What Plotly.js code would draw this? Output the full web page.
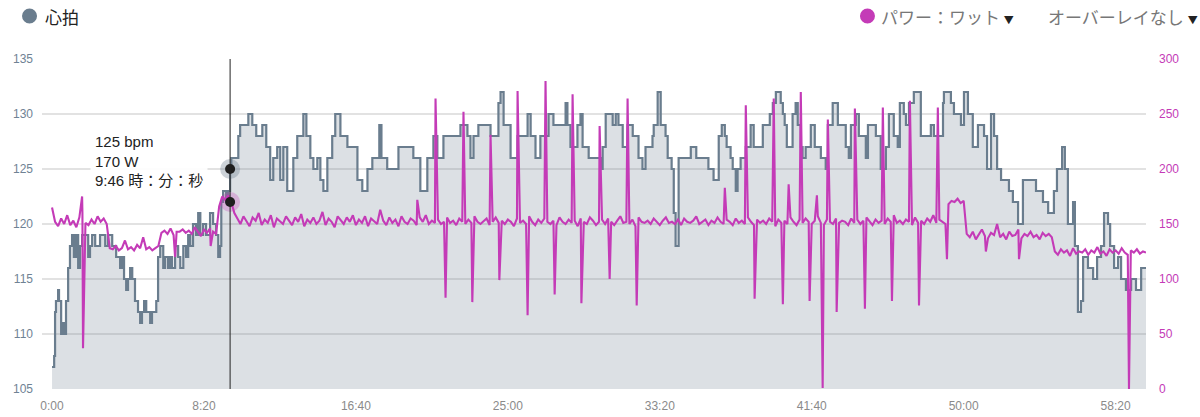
<!DOCTYPE html>
<html>
<head>
<meta charset="utf-8">
<script src="https://cdn.plot.ly/plotly-3.0.1.min.js"></script>
<style>
  html, body { margin: 0; padding: 0; background: #fff; }
  #chart { width: 1200px; height: 417px; }
</style>
</head>
<body>
<div id="chart"></div>
<script>
// ---------------- DATA ----------------
// Heart rate: [seconds, bpm] step points
const heartRate = [
  [0,107],[7,108],[10,112],[13,113],[20,114],[23,113],[30,110],[36,111],[40,110],[46,113],
  [53,116],[59,118],[66,119],[72,117],[79,119],[86,116],[92,118],[99,119],[119,117],[125,118],
  [132,119],[142,118],[158,119],[175,118],[184,119],[198,118],[211,117],[224,116],[231,117],[237,115],
  [244,114],[250,115],[257,116],[264,115],[273,113],[283,112],[290,111],[296,112],[303,113],[310,112],
  [323,111],[329,112],[343,113],[349,117],[356,118],[366,116],[372,117],[382,116],[389,117],[395,116],
  [405,118],[415,117],[422,116],[432,118],[441,117],[448,119],[455,118],[464,120],[474,119],[481,121],
  [488,119],[497,120],[507,119],[520,121],[530,120],[540,119],[547,117],[553,118],[557,122],[563,123],
  [573,122],[580,123],[586,125],[590,126],[613,128],[619,129],[646,130],[659,129],[672,128],[692,129],
  [705,127],[718,124],[728,126],[741,127],[751,124],[761,127],[774,123],[794,126],[807,128],[827,130],
  [837,128],[850,126],[860,125],[873,126],[883,124],[893,123],[906,126],[922,128],[932,130],[949,128],
  [972,127],[1005,124],[1021,123],[1038,125],[1054,126],[1077,129],[1084,126],[1103,125],[1140,127],[1189,126],
  [1212,123],[1235,126],[1255,128],[1268,126],[1288,128],[1344,129],[1367,128],[1377,126],[1387,128],[1403,129],
  [1443,128],[1469,131],[1476,132],[1486,129],[1509,126],[1532,128],[1565,130],[1575,128],[1591,126],[1607,128],
  [1634,130],[1650,129],[1690,131],[1696,129],[1706,127],[1729,129],[1739,130],[1746,127],[1766,126],[1805,125],
  [1812,127],[1822,130],[1845,129],[1855,130],[1864,129],[1878,127],[1894,129],[1911,128],[1930,126],[1943,125],
  [1953,127],[1976,128],[1980,129],[1993,132],[2003,129],[2019,128],[2026,126],[2039,125],[2046,121],[2052,118],
  [2062,126],[2102,127],[2120,126],[2135,126],[2160,125],[2177,124],[2194,128],[2204,129],[2214,128],[2220,127],
  [2233,126],[2240,125],[2250,123],[2256,125],[2266,126],[2283,127],[2299,129],[2309,127],[2339,129],[2362,130],
  [2372,131],[2382,132],[2398,131],[2405,130],[2411,129],[2418,127],[2437,130],[2447,131],[2454,129],[2464,127],
  [2470,126],[2480,127],[2497,129],[2510,127],[2530,126],[2546,125],[2553,129],[2569,131],[2586,129],[2612,127],
  [2622,126],[2629,129],[2645,130],[2655,128],[2678,126],[2685,129],[2711,128],[2727,125],[2744,127],[2754,130],
  [2770,128],[2783,127],[2790,131],[2803,130],[2810,129],[2820,131],[2836,132],[2859,128],[2892,129],[2902,128],
  [2932,131],[2935,132],[2958,131],[2968,130],[2991,129],[3001,132],[3014,130],[3030,127],[3047,129],[3067,128],
  [3077,125],[3090,130],[3100,128],[3110,125],[3123,124],[3149,123],[3162,122],[3179,120],[3195,124],[3238,123],
  [3261,122],[3278,121],[3297,123],[3307,125],[3324,127],[3333,125],[3343,120],[3360,122],[3366,118],[3376,112],
  [3386,113],[3393,117],[3409,116],[3426,115],[3439,117],[3452,118],[3462,121],[3475,120],[3482,118],[3495,116],
  [3508,117],[3518,115],[3534,114],[3551,115],[3567,114],[3584,116],[3600,116]
];

// Power (W), segments sampled every 10 s; segment start times in seconds
const powerSampleStep = 10;
const powerSegmentStart = [0, 190, 360, 550, 610, 2950, 3010, 3300];
const powerWarmup = [165,152,148,155,150,158,149,153,147,156,160,151,149,154,150,157,152,155,150];
const powerLow    = [128,127,130,126,128,135,127,129,126,131,128,138,127,129,126,128,130];
const powerMid    = [142,144,141,146,140,143,143,145,142,144,141,147,143,139,145,142,146,143,141];
const powerRamp   = [166,175,172,176,170,160];
const powerMain   = [
  155,150,157,152,148,156,153,160,149,154,151,158,147,155,152,150,157,153,149,156,
  152,159,148,154,151,156,150,153,161,149,155,152,147,157,153,150,156,152,158,149,
  154,151,157,148,155,152,150,163,153,149,156,151,154,148,157,152,150,155,153,149,
  156,152,158,150,153,151,154,150,152,156,151,153,149,155,152,150,154,151,157,152,
  150,153,155,149,152,156,151,153,150,154,152,148,155,151,153,150,157,152,149,154,
  151,155,152,150,153,149,156,152,150,154,151,153,148,155,152,150,156,153,149,152,
  154,150,155,152,149,153,157,151,152,150,154,148,156,152,151,153,150,155,152,149,
  153,156,151,152,150,154,149,155,152,151,153,157,150,152,154,149,153,151,156,152,
  150,154,152,149,155,151,153,150,156,152,149,154,151,153,150,155,152,148,154,151,
  153,150,156,152,149,154,151,155,152,150,153,157,151,149,154,152,150,155,151,153,
  152,149,155,151,154,150,153,156,152,149,154,151,153,150,155,152,158,151,153,150,
  154,152,149,156,151,153,150,155,152,158,151,154,152,150
];
const powerHigh   = [168,171,170,173,169,171];
const powerCool1  = [141,138,143,136,140,145,139,137,142,140,150,138,141,136,143,139,140,145,137,141,139,143,138,140,136,142,139,141,138];
const powerCool2  = [125,122,127,124,126,121,128,123,125,124,127,122,126,124,129,123,125,121,127,124,126,123,128,124,122,126,124,127,123,125,124];
const powerSegments = [powerWarmup, powerLow, powerMid, powerRamp, powerMain, powerHigh, powerCool1, powerCool2];

// Single-sample power spikes / drops
const spikeTime  = [99,102,405,522,1202,1262,1295,1354,1383,1443,1472,1532,1565,1624,1654,1713,1742,1802,1835,1894,1924,2214,2283,2312,2375,2405,2424,2464,2493,2517,2536,2553,2582,2642,2675,2734,2764,2823,2853,2915,2945,3073,3182,3544];
const spikeWatts = [175,37,120,130,172,264,83,252,79,231,99,271,67,280,86,268,78,239,100,264,76,183,258,82,264,77,186,270,80,176,1,245,70,255,73,256,80,262,76,256,118,125,118,0];

// Axis ticks
const xTickSeconds = [0,500,1000,1500,2000,2500,3000,3500];
const xTickLabels  = ['0:00','8:20','16:40','25:00','33:20','41:40','50:00','58:20'];
const hrTicks      = [105,110,115,120,125,130,135];
const powerTicks   = [0,50,100,150,200,250,300];

// Hover cursor readout
const cursorTime  = 586;
const cursorHR    = 125;
const cursorPower = 170;

// ---------------- BUILD ----------------
const hrX = heartRate.map(p => p[0]);
const hrY = heartRate.map(p => p[1]);

let pts = [];
powerSegments.forEach((seg, si) => {
  seg.forEach((v, i) => pts.push([powerSegmentStart[si] + i * powerSampleStep, v]));
});
const spikeSet = new Set(spikeTime);
pts = pts.filter(p => !spikeSet.has(p[0]));
spikeTime.forEach((t, i) => pts.push([t, spikeWatts[i]]));
pts.sort((a, b) => a[0] - b[0]);
const pwX = pts.map(p => p[0]);
const pwY = pts.map(p => p[1]);

const HR_COL = '#6a7d8e';
const PW_COL = '#c43bb7';

function fmtTime(s) {
  const m = Math.floor(s / 60), r = s % 60;
  return m + ':' + (r < 10 ? '0' : '') + r;
}

const traces = [
  { x: hrX, y: hrY, type: 'scatter', mode: 'lines',
    line: { shape: 'hv', color: HR_COL, width: 2.2 },
    fill: 'tozeroy', fillcolor: 'rgba(108,127,144,0.24)', hoverinfo: 'skip' },
  { x: pwX, y: pwY, type: 'scatter', mode: 'lines', yaxis: 'y2',
    line: { color: PW_COL, width: 2.1 }, hoverinfo: 'skip' },
  { x: [cursorTime], y: [cursorHR], type: 'scatter', mode: 'markers',
    marker: { size: 20, color: 'rgba(108,127,144,0.35)' }, hoverinfo: 'skip' },
  { x: [cursorTime], y: [cursorHR], type: 'scatter', mode: 'markers',
    marker: { size: 10, color: '#1e1e1e' }, hoverinfo: 'skip' },
  { x: [cursorTime], y: [cursorPower], type: 'scatter', mode: 'markers', yaxis: 'y2',
    marker: { size: 20, color: 'rgba(196,59,183,0.28)' }, hoverinfo: 'skip' },
  { x: [cursorTime], y: [cursorPower], type: 'scatter', mode: 'markers', yaxis: 'y2',
    marker: { size: 10, color: '#1e1e1e' }, hoverinfo: 'skip' }
];

const JP = 'Noto Sans CJK JP, Liberation Sans, sans-serif';
const SANS = 'Liberation Sans, Arial, Noto Sans CJK JP, sans-serif';

const layout = {
  width: 1200, height: 417,
  margin: { l: 42, r: 54, t: 59, b: 28 },
  paper_bgcolor: '#ffffff', plot_bgcolor: '#ffffff',
  showlegend: false,
  font: { family: SANS },
  xaxis: {
    range: [-33, 3600], tickvals: xTickSeconds, ticktext: xTickLabels,
    showgrid: false, zeroline: false, showline: false, ticks: '',
    tickfont: { size: 12, color: '#8a8a8a' }, ticklabelstandoff: 8, fixedrange: true
  },
  yaxis: {
    range: [105, 135], tickvals: hrTicks, showgrid: true, gridcolor: '#e2e2e2', gridwidth: 1.5,
    zeroline: false, showline: false, ticks: '',
    tickfont: { size: 12, color: '#6f8294' }, ticklabelstandoff: 8, fixedrange: true
  },
  yaxis2: {
    range: [0, 300], tickvals: powerTicks, overlaying: 'y', side: 'right',
    showgrid: false, zeroline: false, showline: false, ticks: '',
    tickfont: { size: 12, color: PW_COL }, ticklabelstandoff: 12, fixedrange: true
  },
  shapes: [
    { type: 'line', xref: 'x', yref: 'paper', x0: cursorTime, x1: cursorTime, y0: 0, y1: 1,
      line: { color: '#222', width: 1 }, layer: 'above' },
    { type: 'circle', xref: 'paper', yref: 'paper', x0: -0.0181, x1: -0.0045, y0: 1.1076, y1: 1.153,
      fillcolor: HR_COL, line: { width: 0 } },
    { type: 'circle', xref: 'paper', yref: 'paper', x0: 0.7409, x1: 0.7545, y0: 1.1076, y1: 1.153,
      fillcolor: PW_COL, line: { width: 0 } }
  ],
  annotations: [
    { xref: 'paper', yref: 'paper', x: 0.0005, y: 1.13, xanchor: 'left', yanchor: 'middle',
      text: '心拍', showarrow: false, font: { family: JP, size: 17, color: '#222' } },
    { xref: 'paper', yref: 'paper', x: 0.7585, y: 1.13, xanchor: 'left', yanchor: 'middle',
      text: 'パワー：ワット <span style="font-size:10px;color:#222">▼</span>', showarrow: false,
      font: { family: JP, size: 17, color: '#777' } },
    { xref: 'paper', yref: 'paper', x: 0.9098, y: 1.13, xanchor: 'left', yanchor: 'middle',
      text: 'オーバーレイなし <span style="font-size:10px;color:#222">▼</span>', showarrow: false,
      font: { family: JP, size: 17, color: '#777' } },
    { xref: 'x', yref: 'y', x: cursorTime, y: cursorHR, xanchor: 'right', yanchor: 'middle',
      xshift: -22, yshift: 8, align: 'left', showarrow: false,
      text: cursorHR + ' bpm<br>' + cursorPower + ' W<br>' + fmtTime(cursorTime) + ' 時：分：秒',
      font: { family: SANS, size: 15, color: '#222' },
      bgcolor: 'rgba(255,255,255,0.92)', borderpad: 4 }
  ]
};

Plotly.newPlot('chart', traces, layout, { displayModeBar: false, staticPlot: true });
</script>
</body>
</html>
